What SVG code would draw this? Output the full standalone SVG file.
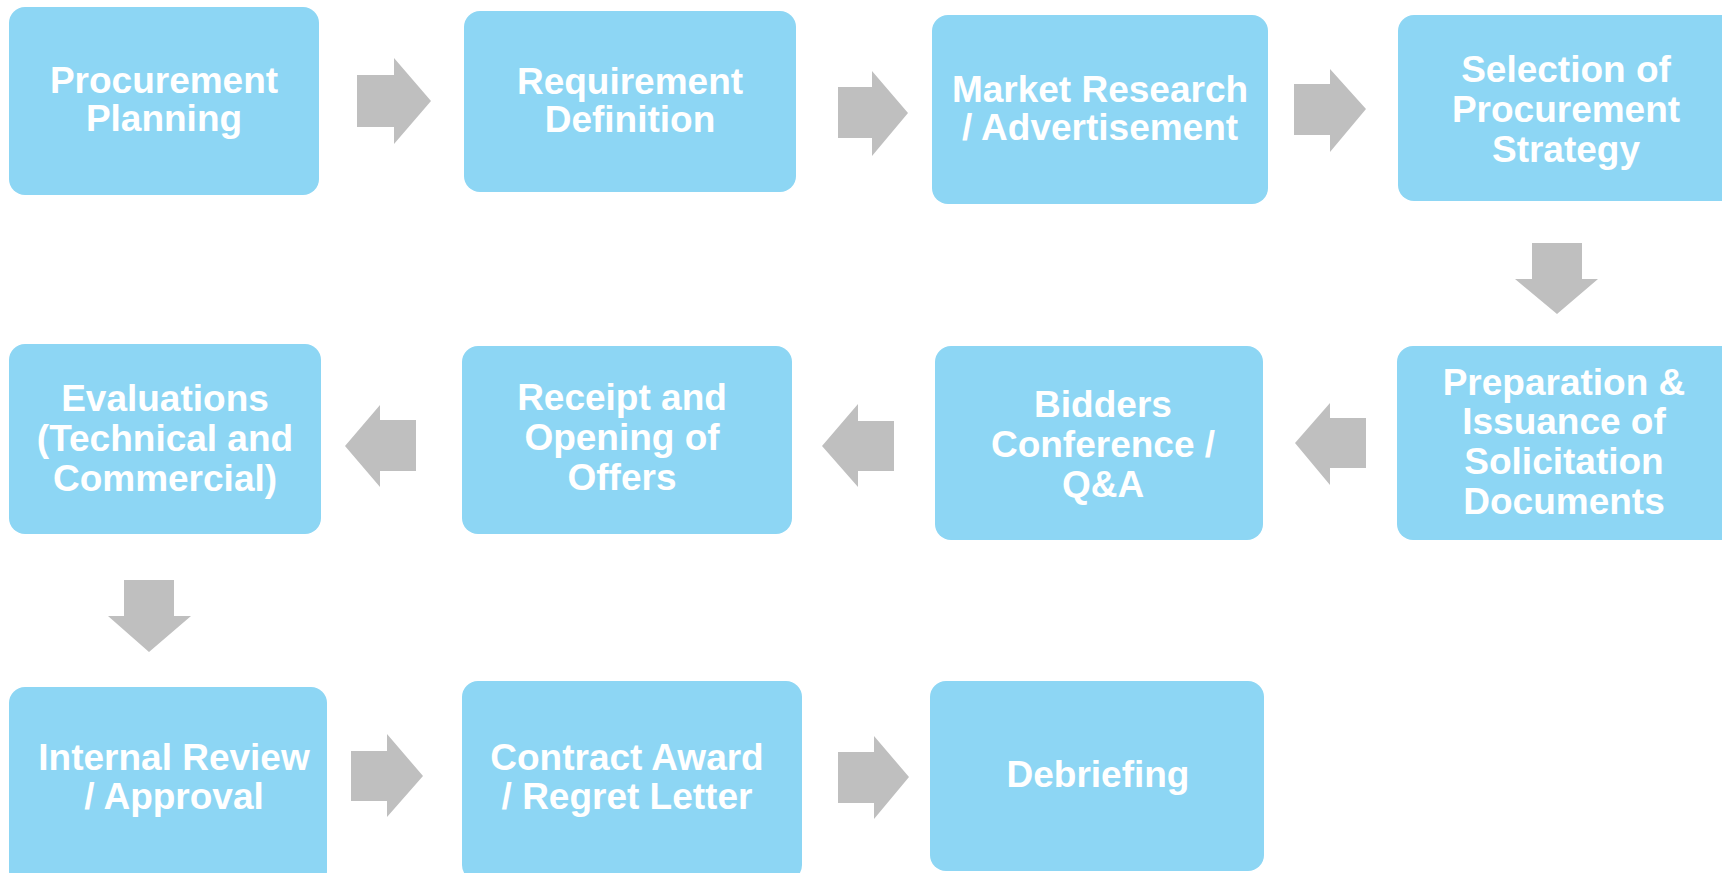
<svg xmlns="http://www.w3.org/2000/svg" width="1722" height="873" viewBox="0 0 1722 873">
<style>
.box{fill:#8DD6F4;}
.t{fill:#FFFFFF;font-family:"Liberation Sans",Arial,sans-serif;font-weight:bold;font-size:37px;text-anchor:middle;}
.arr{fill:#BFBFBF;}
</style>
<rect width="1722" height="873" fill="#FFFFFF"/>
<g id="connectors">
<polygon class="arr" points="357,75 394,75 394,58 431,101 394,144 394,127 357,127"/>
<polygon class="arr" points="838,87 872,87 872,71 908,113 872,156 872,138 838,138"/>
<polygon class="arr" points="1294,84 1330,84 1330,69 1366,109 1330,152 1330,135 1294,135"/>
<polygon class="arr" points="1532,243 1582,243 1582,279 1598,279 1557,314 1515,279 1532,279"/>
<polygon class="arr" points="1366,418 1330,418 1330,403 1295,443 1330,485 1330,468 1366,468"/>
<polygon class="arr" points="894,421 858,421 858,404 822,446 858,487 858,471 894,471"/>
<polygon class="arr" points="416,420 380,420 380,405 345,446 380,487 380,471 416,471"/>
<polygon class="arr" points="124,580 174,580 174,616 191,616 149,652 108,616 124,616"/>
<polygon class="arr" points="351,751 387,751 387,734 423,776 387,817 387,801 351,801"/>
<polygon class="arr" points="838,752 874,752 874,736 909,777 874,819 874,803 838,803"/>
</g>
<g id="n1"><rect class="box" x="9" y="7" width="310" height="188" rx="16"/>
<text class="t" x="164" y="93">Procurement</text><text class="t" x="164" y="131">Planning</text></g>
<g id="n2"><rect class="box" x="464" y="11" width="332" height="181" rx="16"/>
<text class="t" x="630" y="94">Requirement</text><text class="t" x="630" y="132">Definition</text></g>
<g id="n3"><rect class="box" x="932" y="15" width="336" height="189" rx="16"/>
<text class="t" x="1100" y="102">Market Research</text><text class="t" x="1100" y="140">/ Advertisement</text></g>
<g id="n4"><rect class="box" x="1398" y="15" width="344" height="186" rx="16"/>
<text class="t" x="1566" y="82">Selection of</text><text class="t" x="1566" y="122">Procurement</text><text class="t" x="1566" y="162">Strategy</text></g>
<g id="n5"><rect class="box" x="1397" y="346" width="345" height="194" rx="16"/>
<text class="t" x="1564" y="395">Preparation &amp;</text><text class="t" x="1564" y="434">Issuance of</text><text class="t" x="1564" y="474">Solicitation</text><text class="t" x="1564" y="514">Documents</text></g>
<g id="n6"><rect class="box" x="935" y="346" width="328" height="194" rx="16"/>
<text class="t" x="1103" y="417">Bidders</text><text class="t" x="1103" y="457">Conference /</text><text class="t" x="1103" y="497">Q&amp;A</text></g>
<g id="n7"><rect class="box" x="462" y="346" width="330" height="188" rx="16"/>
<text class="t" x="622" y="410">Receipt and</text><text class="t" x="622" y="450">Opening of</text><text class="t" x="622" y="490">Offers</text></g>
<g id="n8"><rect class="box" x="9" y="344" width="312" height="190" rx="16"/>
<text class="t" x="165" y="411">Evaluations</text><text class="t" x="165" y="451">(Technical and</text><text class="t" x="165" y="491">Commercial)</text></g>
<g id="n9"><rect class="box" x="9" y="687" width="318" height="200" rx="16"/>
<text class="t" x="174" y="770">Internal Review</text><text class="t" x="174" y="809">/ Approval</text></g>
<g id="n10"><rect class="box" x="462" y="681" width="340" height="200" rx="16"/>
<text class="t" x="627" y="770">Contract Award</text><text class="t" x="627" y="809">/ Regret Letter</text></g>
<g id="n11"><rect class="box" x="930" y="681" width="334" height="190" rx="16"/>
<text class="t" x="1098" y="787">Debriefing</text></g>
</svg>
